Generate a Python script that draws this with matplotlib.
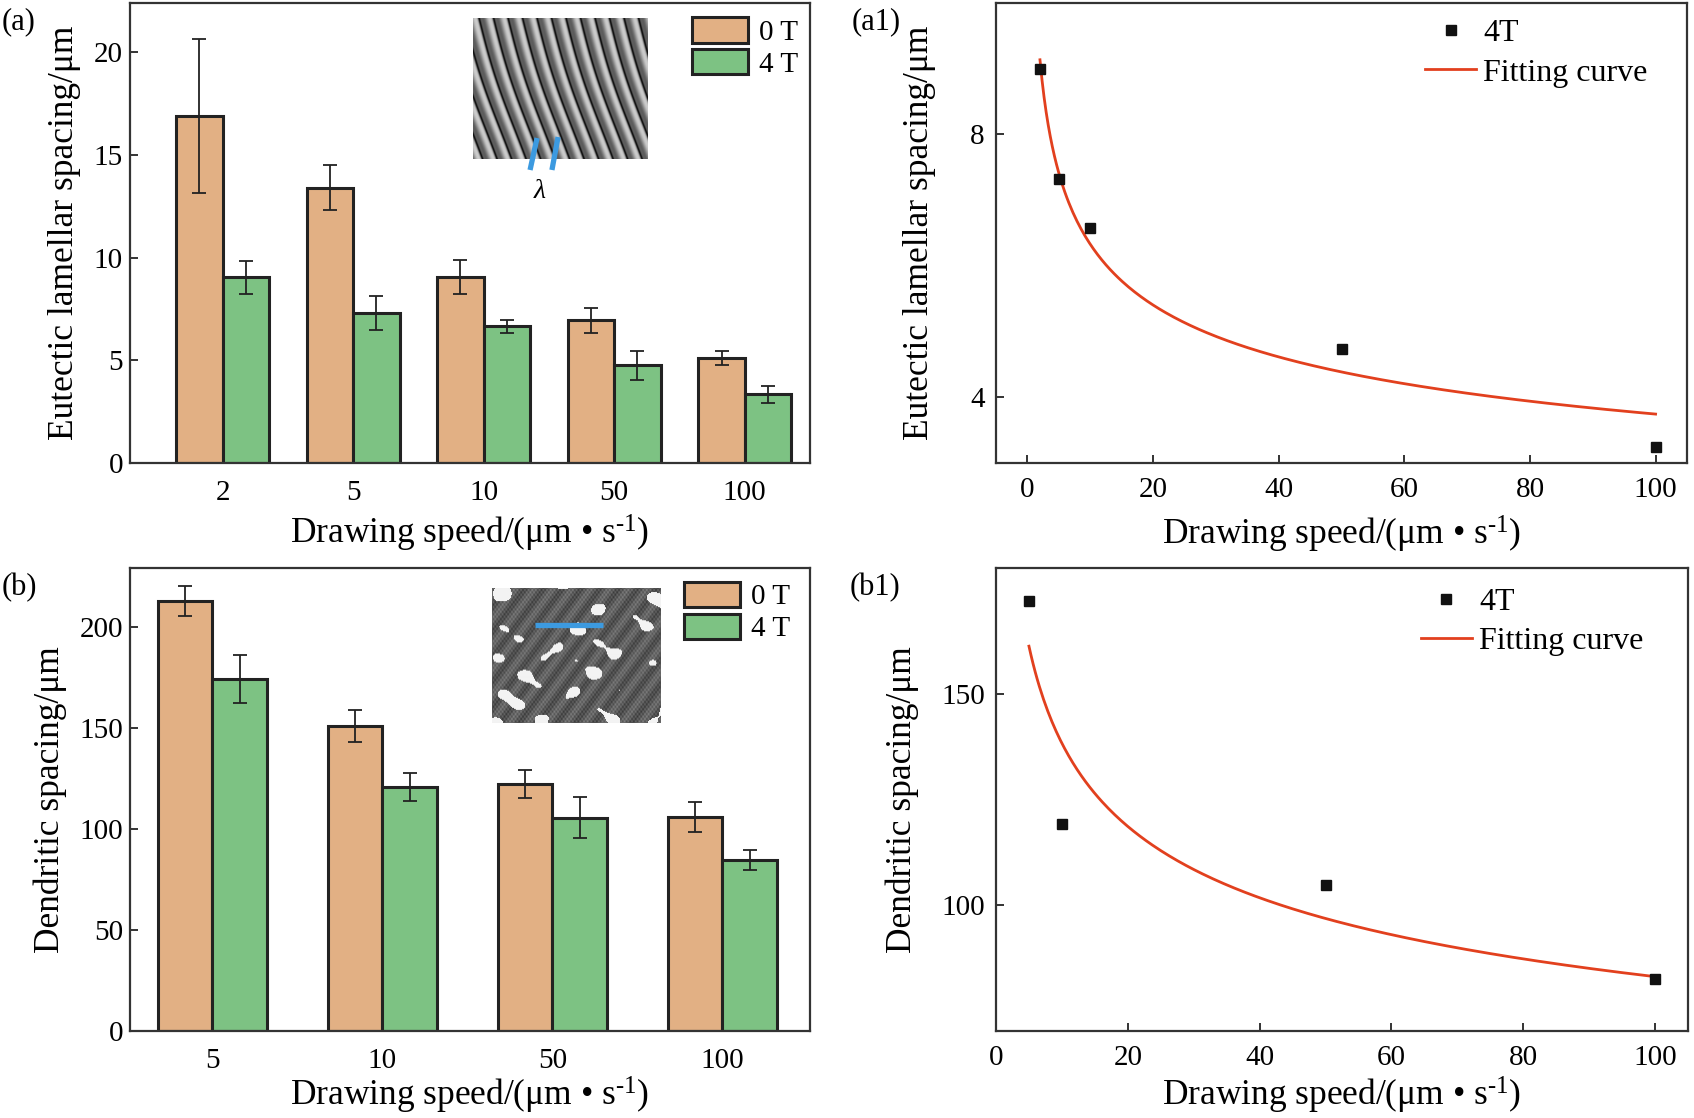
import numpy as np
import matplotlib
matplotlib.use("Agg")
import matplotlib.pyplot as plt
from matplotlib.lines import Line2D

plt.rcParams['font.family'] = ['Liberation Serif', 'DejaVu Serif']
plt.rcParams['mathtext.fontset'] = 'custom'
plt.rcParams['mathtext.rm'] = 'Liberation Serif'
plt.rcParams['mathtext.it'] = 'Liberation Serif:italic'

# ---------------- data ----------------
speeds_a = ['2', '5', '10', '50', '100']
eut_0T = [16.9, 13.4, 9.05, 6.95, 5.1]
eut_0T_err = [3.75, 1.1, 0.83, 0.6, 0.35]
eut_4T = [9.05, 7.3, 6.65, 4.75, 3.35]
eut_4T_err = [0.8, 0.82, 0.33, 0.69, 0.42]

speeds_b = ['5', '10', '50', '100']
den_0T = [212.7, 150.8, 122.3, 105.8]
den_0T_err = [7.5, 8.0, 7.0, 7.5]
den_4T = [174.0, 120.7, 105.5, 84.4]
den_4T_err = [12.0, 7.0, 10.0, 5.0]

a1_speed = [2, 5, 10, 50, 100]
a1_val = [9.0, 7.32, 6.57, 4.73, 3.24]
a1_fit = (10.70, 0.228)      # lambda = A * v^-n
b1_speed = [5, 10, 50, 100]
b1_val = [172.1, 119.2, 104.6, 82.4]
b1_fit = (230.9, 0.2224)

# ---------------- style ----------------
C0 = '#E2B084'
C4 = '#7DC283'
RED = '#E2401E'
EDGE = '#222222'
TICK_FS = 21
LAB_FS = 25.5
xlab = 'Drawing speed/(μm • s$^{\\text{-1}}$)'

W, H = 1694, 1118
fig = plt.figure(figsize=(W / 100, H / 100), dpi=100)


def px_axes(x0, y0, x1, y1):
    return fig.add_axes([x0 / W, 1 - y1 / H, (x1 - x0) / W, (y1 - y0) / H])


def style(ax):
    for s in ax.spines.values():
        s.set_linewidth(1.6)
        s.set_color('#333333')
    ax.tick_params(direction='in', length=6, width=1.4, labelsize=TICK_FS,
                   color='#333333', pad=5)


def bar_panel(ax, cats, v0, e0, v4, e4, width, xlim, ylim, yticks, ylabel, xlpad):
    x = np.arange(len(cats))
    b0 = ax.bar(x - width / 2, v0, width, color=C0, edgecolor=EDGE, linewidth=2.2, label='0 T', zorder=2)
    b4 = ax.bar(x + width / 2, v4, width, color=C4, edgecolor=EDGE, linewidth=2.2, label='4 T', zorder=2)
    ax.errorbar(x - width / 2, v0, yerr=e0, fmt='none', ecolor='#222222', elinewidth=1.3,
                capsize=5, capthick=1.3, zorder=3)
    ax.errorbar(x + width / 2, v4, yerr=e4, fmt='none', ecolor='#222222', elinewidth=1.3,
                capsize=5, capthick=1.3, zorder=3)
    ax.set_xlim(*xlim)
    ax.set_ylim(*ylim)
    ax.set_xticks(x)
    ax.set_xticklabels(cats)
    ax.set_yticks(yticks)
    style(ax)
    ax.tick_params(axis='x', length=0, pad=12)
    ax.set_xlabel(xlab, fontsize=LAB_FS, labelpad=xlpad)
    ax.set_ylabel(ylabel, fontsize=LAB_FS, labelpad=9)
    return b0, b4


# ---------- (a) ----------
ax_a = px_axes(130, 3, 810, 463)
b0, b4 = bar_panel(ax_a, speeds_a, eut_0T, eut_0T_err, eut_4T, eut_4T_err, 0.356,
                   (-0.71, 4.5), (0, 22.4), [0, 5, 10, 15, 20], 'Eutectic lamellar spacing/μm', 5)
ax_a.legend([b0, b4], ['0 T', '4 T'], loc='upper left', bbox_to_anchor=(0.826, 0.969),
            frameon=False, fontsize=TICK_FS, handlelength=1.92, handleheight=0.96,
            labelspacing=0.1, handletextpad=0.38, borderpad=0, borderaxespad=0)

# ---------- (b) ----------
ax_b = px_axes(130, 568, 810, 1031)
b0, b4 = bar_panel(ax_b, speeds_b, den_0T, den_0T_err, den_4T, den_4T_err, 0.32,
                   (-0.485, 3.515), (0, 229), [0, 50, 100, 150, 200], 'Dendritic spacing/μm', 1)
ax_b.legend([b0, b4], ['0 T', '4 T'], loc='upper left', bbox_to_anchor=(0.815, 0.970),
            frameon=False, fontsize=TICK_FS, handlelength=1.92, handleheight=0.93,
            labelspacing=0.12, handletextpad=0.38, borderpad=0, borderaxespad=0)


# ---------- scatter + fit panels ----------
def fit_panel(ax, xs, ys, fit, xfit0, xlim, ylim, yticks, ylabel, anchor, ylpad, xlpad):
    ax.plot(xs, ys, 's', color='#111111', ms=7.5, zorder=3, label='4T')
    xf = np.linspace(xfit0, 100, 300)
    ax.plot(xf, fit[0] * xf ** (-fit[1]), '-', color=RED, lw=2.0, zorder=2, label='Fitting curve')
    ax.set_xlim(*xlim)
    ax.set_ylim(*ylim)
    ax.set_xticks([0, 20, 40, 60, 80, 100])
    ax.set_yticks(yticks)
    style(ax)
    ax.tick_params(axis='x', pad=10)
    ax.tick_params(axis='y', pad=8)
    ax.set_xlabel(xlab, fontsize=LAB_FS, labelpad=xlpad)
    ax.set_ylabel(ylabel, fontsize=LAB_FS, labelpad=ylpad)
    ax.legend(loc='upper left', bbox_to_anchor=anchor, frameon=False, fontsize=23,
              handlelength=1.6, handletextpad=0.22, labelspacing=0.32,
              borderpad=0, borderaxespad=0)


ax_a1 = px_axes(996, 3, 1687, 463)
fit_panel(ax_a1, a1_speed, a1_val, a1_fit, 2, (-5, 105), (3, 10), [4, 8],
          'Eutectic lamellar spacing/μm', (0.621, 0.966), 25, 8)

ax_b1 = px_axes(996, 568, 1688, 1031)
fit_panel(ax_b1, b1_speed, b1_val, b1_fit, 5, (0, 105), (70, 180), [100, 150],
          'Dendritic spacing/μm', (0.614, 0.958), 16, 3)

# ---------- panel labels ----------
for txt, x, y in [('(a)', 2, 22), ('(a1)', 852, 22), ('(b)', 2, 588), ('(b1)', 850, 588)]:
    fig.text(x / W, 1 - y / H, txt, fontsize=22, ha='left', va='center')

# ---------- micrograph insets (schematic) ----------
ins_a = px_axes(473, 18, 648, 159)
hh, ww = 141, 175
yy, xx = np.mgrid[0:hh, 0:ww].astype(float)
u = (xx + 0.32 * (hh - yy) + 2.5 * np.sin(yy / 35.0)) / 14.5
fr = u - np.floor(u)
img_a = 0.58 + 0.22 * np.sin(2 * np.pi * u) - 0.5 * np.exp(-((fr - 0.5) / 0.09) ** 2)
ins_a.imshow(img_a, cmap='gray', vmin=0, vmax=1, aspect='auto', interpolation='bilinear')
ins_a.axis('off')
for (x0, y0, x1, y1) in [(0.366, 0.149, 0.326, -0.078), (0.486, 0.156, 0.451, -0.078)]:
    ins_a.add_line(Line2D([x0, x1], [y0, y1], transform=ins_a.transAxes, color='#3C9AE0',
                          lw=3.8, clip_on=False, solid_capstyle='butt'))
ins_a.text(0.383, -0.23, r'$\lambda$', transform=ins_a.transAxes, fontsize=20,
           ha='center', va='center')

ins_b = px_axes(492, 588, 661, 723)
hh, ww = 135, 169
yy, xx = np.mgrid[0:hh, 0:ww].astype(float)
s = (np.sin(xx / 6.0) * np.sin(yy / 5.0) + 0.7 * np.sin((xx + yy) / 9.0)
     + 0.6 * np.cos((xx - 2 * yy) / 11.0) + 0.4 * np.sin(xx / 23.0 + yy / 17.0))
tex = 0.36 + 0.08 * np.sin(xx * 1.7) * np.cos(yy * 1.3) + 0.06 * np.sin(xx / 3.0 + yy / 4.0)
img_b = np.where(s > 1.05, 0.95, tex)
ins_b.imshow(img_b, cmap='gray', vmin=0, vmax=1, aspect='auto', interpolation='bilinear')
ins_b.axis('off')
ins_b.add_line(Line2D([0.254, 0.657], [0.726, 0.726], transform=ins_b.transAxes,
                      color='#3C9AE0', lw=3.8, solid_capstyle='butt'))

fig.savefig('out.png', dpi=100, facecolor='white')
